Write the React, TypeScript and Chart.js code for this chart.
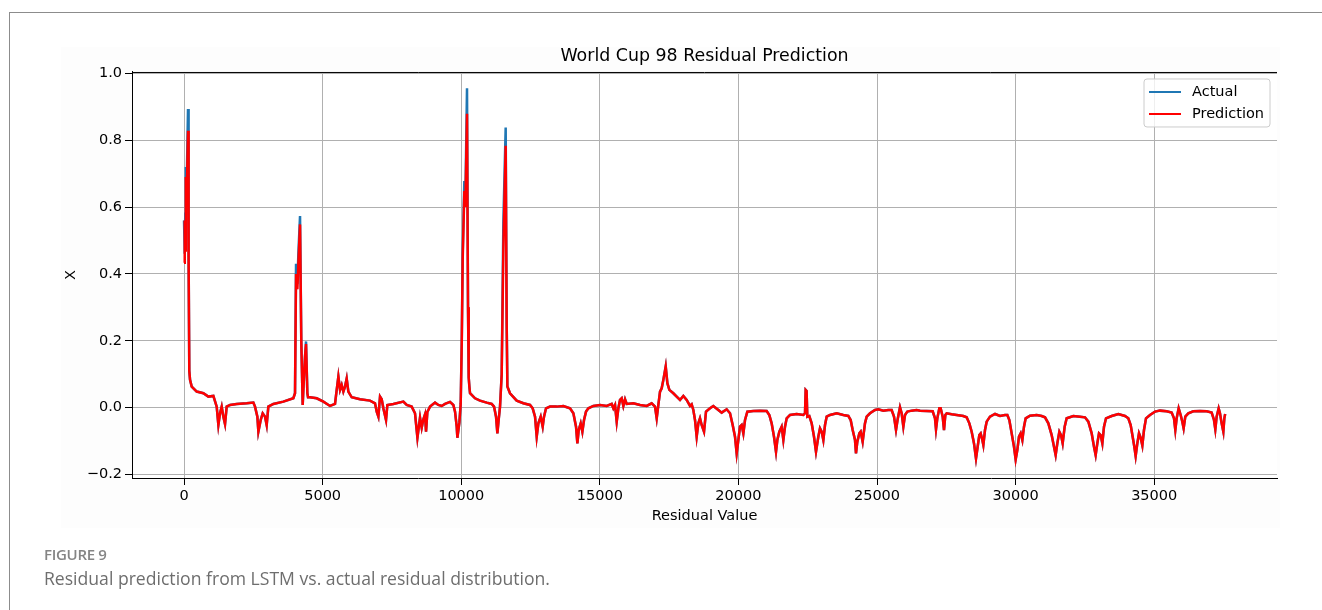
import React, { useEffect, useRef } from 'react';
import { Chart, registerables } from 'chart.js';

Chart.register(...registerables);

const FONT = "'DejaVu Sans', sans-serif";

const xTickValues = [0, 5000, 10000, 15000, 20000, 25000, 30000, 35000];
const yTickValues = [-0.2, 0.0, 0.2, 0.4, 0.6, 0.8, 1.0];
const X_MIN = -1877;
const X_MAX = 39430;
const Y_MIN = -0.2105;
const Y_MAX = 1.004;

// sample positions (residual index)
const residualIndex = [
  0, 25, 45, 65, 90, 144, 165, 190, 217,
  277, 457, 698, 878, 1058, 1179, 1239, 1299, 1359, 1419, 1479, 1539, 1660, 1900, 2261, 2501, 2561, 2646, 2682, 2766, 2838, 2922, 2982, 3042, 3223, 3584, 3944,
  4004, 4041, 4089, 4125, 4185, 4230, 4281, 4305, 4365, 4401, 4449, 4473, 4545,
  4786, 5027, 5267, 5447, 5508, 5568, 5628, 5688, 5748, 5808, 5868, 5928, 6049, 6349, 6710, 6890, 6951, 7011, 7071, 7131, 7191, 7287, 7335, 7552, 7913, 8033, 8213, 8333,
  8420, 8514, 8574, 8634, 8694, 8730, 8779, 8875, 9055, 9175, 9296, 9416, 9596, 9716, 9777, 9837, 9861, 9933, 9981,
  10020, 10053, 10113, 10150, 10209, 10245, 10270, 10294, 10318, 10498, 10679, 10919, 11099, 11184, 11256, 11304, 11350, 11400, 11460,
  11520, 11604, 11640, 11665, 11760, 12001, 12242, 12482, 12578, 12663, 12723, 12783, 12867, 12939, 12987, 13059, 13204, 13444, 13685, 13925, 14046, 14142, 14190, 14238, 14310, 14370, 14430, 14502, 14587,
  14767, 15008, 15248, 15428, 15489, 15549, 15609, 15669, 15729, 15789, 15849, 15910, 15970, 16210, 16451, 16691, 16871, 16991, 17052, 17112, 17172, 17232, 17292, 17377, 17437, 17509,
  17652, 17773, 17893, 18013, 18133, 18254, 18314, 18374, 18434, 18494, 18554, 18614, 18674, 18759, 18831, 18975, 19095, 19276, 19396, 19576, 19697, 19793, 19877, 19937, 19997, 20057, 20117, 20178, 20238, 20322,
  20538, 20779, 21019, 21115, 21199, 21284, 21356, 21404, 21476, 21560, 21621, 21681, 21741, 21861, 22102, 22342, 22402, 22426, 22460, 22486, 22558, 22643, 22727, 22799, 22883, 22943, 23004, 23064, 23124, 23184, 23304,
  23545, 23785, 23965, 24050, 24122, 24206, 24242, 24290, 24362, 24410, 24482, 24566, 24627, 24747, 24927, 25047, 25228, 25408, 25528, 25613, 25685, 25745, 25829, 25889, 25950, 26010, 26094, 26250, 26430,
  26551, 26791, 27008, 27092, 27128, 27176, 27248, 27296, 27369, 27417, 27465, 27513, 27693, 27874, 28114, 28234, 28331, 28415, 28499, 28571, 28631, 28691, 28740, 28800, 28836, 28896, 28956, 29076, 29257, 29437, 29617,
  29702, 29774, 29858, 29942, 30002, 30062, 30122, 30183, 30243, 30303, 30363, 30519, 30760, 30940, 31061, 31181, 31301, 31385, 31445, 31505, 31578, 31638, 31698, 31770, 31842, 32083, 32323, 32503,
  32624, 32744, 32828, 32888, 32948, 33008, 33068, 33129, 33189, 33261, 33465, 33706, 33946, 34066, 34151, 34223, 34283, 34331, 34391, 34451, 34511, 34572, 34632, 34704, 34848, 35029, 35209, 35449, 35630,
  35714, 35762, 35810, 35882, 35954, 36014, 36062, 36122, 36230, 36411, 36651, 36892, 37073, 37157, 37205, 37253, 37325, 37373, 37433, 37494, 37530, 37560,
];

const actualValues = [
  0.56, 0.46, 0.58, 0.72, 0.64, 0.893, 0.45, 0.11, 0.083,
  0.063, 0.048, 0.043, 0.033, 0.035, 0.003, -0.052, -0.017, 0.003, -0.027, -0.049, 0.003, 0.008, 0.011, 0.013, 0.015, 0.003, -0.027, -0.072, -0.037, -0.017, -0.027, -0.052, 0.003, 0.011, 0.018, 0.028,
  0.043, 0.43, 0.37, 0.46, 0.573, 0.2, 0.008, 0.053, 0.153, 0.198, 0.043, 0.031, 0.031,
  0.028, 0.018, 0.005, 0.011, 0.053, 0.093, 0.053, 0.068, 0.048, 0.063, 0.087, 0.048, 0.031, 0.025, 0.021, 0.013, -0.012, -0.027, 0.033, 0.025, -0.002, -0.037, 0.008, 0.011, 0.018, 0.008, 0.003, -0.017,
  -0.09, -0.03, -0.06, -0.035, -0.02, -0.072, -0.013, 0.003, 0.015, 0.008, 0.005, 0.011, 0.017, 0.008, -0.012, -0.057, -0.09, -0.045, 0.011,
  0.2, 0.46, 0.678, 0.62, 0.955, 0.3, 0.09, 0.063, 0.043, 0.028, 0.021, 0.015, 0.011, 0.003, -0.027, -0.077, -0.037, 0.003, 0.1,
  0.553, 0.838, 0.25, 0.063, 0.043, 0.021, 0.013, 0.008, -0.002, -0.027, -0.087, -0.047, -0.027, -0.057, -0.027, -0.002, 0.003, 0.003, 0.005, -0.002, -0.017, -0.057, -0.107, -0.067, -0.047, -0.072, -0.037, -0.012, -0.002,
  0.005, 0.008, 0.005, 0.011, -0.002, 0.008, -0.042, -0.002, 0.023, 0.028, 0.005, 0.025, 0.011, 0.013, 0.008, 0.005, 0.013, 0.003, -0.032, 0.008, 0.048, 0.058, 0.083, 0.123, 0.073, 0.053,
  0.043, 0.033, 0.023, 0.035, 0.023, 0.005, 0.01, -0.007, -0.037, -0.087, -0.047, -0.032, -0.052, -0.072, -0.012, -0.002, 0.005, -0.007, -0.015, -0.005, -0.017, -0.052, -0.087, -0.137, -0.097, -0.057, -0.052, -0.077, -0.037, -0.012,
  -0.010, -0.009, -0.010, -0.022, -0.047, -0.087, -0.132, -0.097, -0.072, -0.057, -0.097, -0.057, -0.032, -0.022, -0.019, -0.022, -0.017, 0.053, 0.05, -0.027, -0.025, -0.047, -0.087, -0.132, -0.087, -0.062, -0.072, -0.097, -0.052, -0.027, -0.022,
  -0.017, -0.022, -0.025, -0.037, -0.067, -0.097, -0.137, -0.102, -0.077, -0.072, -0.102, -0.047, -0.027, -0.017, -0.007, -0.005, -0.009, -0.007, -0.007, -0.027, -0.067, -0.035, 0.001, -0.017, -0.057, -0.022, -0.012, -0.009, -0.007,
  -0.009, -0.010, -0.011, -0.032, -0.065, -0.032, -0.002, -0.002, -0.027, -0.067, -0.022, -0.017, -0.020, -0.022, -0.025, -0.029, -0.047, -0.072, -0.107, -0.152, -0.117, -0.082, -0.077, -0.097, -0.112, -0.067, -0.042, -0.027, -0.019, -0.025, -0.022,
  -0.022, -0.037, -0.077, -0.117, -0.155, -0.127, -0.087, -0.077, -0.097, -0.057, -0.032, -0.024, -0.022, -0.025, -0.029, -0.047, -0.082, -0.117, -0.142, -0.107, -0.072, -0.082, -0.107, -0.057, -0.032, -0.025, -0.027, -0.029,
  -0.042, -0.077, -0.117, -0.142, -0.107, -0.077, -0.082, -0.107, -0.057, -0.032, -0.025, -0.019, -0.025, -0.032, -0.052, -0.087, -0.117, -0.145, -0.107, -0.077, -0.09, -0.113, -0.067, -0.032, -0.022, -0.012, -0.009, -0.011, -0.015,
  -0.032, -0.067, -0.032, -0.002, -0.022, -0.042, -0.062, -0.027, -0.017, -0.011, -0.010, -0.011, -0.015, -0.037, -0.065, -0.027, -0.002, -0.017, -0.047, -0.072, -0.032, -0.019,
];

const predictionValues = [
  0.433, 0.56, 0.47, 0.69, 0.60, 0.828, 0.45, 0.11, 0.083,
  0.063, 0.048, 0.043, 0.033, 0.035, 0.003, -0.052, -0.017, 0.003, -0.027, -0.049, 0.003, 0.008, 0.011, 0.013, 0.015, 0.003, -0.027, -0.072, -0.037, -0.017, -0.027, -0.052, 0.003, 0.011, 0.018, 0.028,
  0.043, 0.40, 0.354, 0.43, 0.548, 0.2, 0.008, 0.053, 0.153, 0.19, 0.043, 0.031, 0.031,
  0.028, 0.018, 0.005, 0.011, 0.053, 0.093, 0.053, 0.068, 0.048, 0.063, 0.087, 0.048, 0.031, 0.025, 0.021, 0.013, -0.012, -0.027, 0.033, 0.025, -0.002, -0.037, 0.008, 0.011, 0.018, 0.008, 0.003, -0.017,
  -0.09, -0.03, -0.06, -0.035, -0.02, -0.072, -0.013, 0.003, 0.015, 0.008, 0.005, 0.011, 0.017, 0.008, -0.012, -0.057, -0.09, -0.045, 0.011,
  0.2, 0.443, 0.648, 0.60, 0.879, 0.3, 0.09, 0.063, 0.043, 0.028, 0.021, 0.015, 0.011, 0.003, -0.027, -0.077, -0.037, 0.003, 0.1,
  0.473, 0.783, 0.25, 0.063, 0.043, 0.021, 0.013, 0.008, -0.002, -0.027, -0.087, -0.047, -0.027, -0.057, -0.027, -0.002, 0.003, 0.003, 0.005, -0.002, -0.017, -0.057, -0.107, -0.067, -0.047, -0.072, -0.037, -0.012, -0.002,
  0.005, 0.008, 0.005, 0.011, -0.002, 0.008, -0.042, -0.002, 0.023, 0.028, 0.005, 0.025, 0.011, 0.013, 0.008, 0.005, 0.013, 0.003, -0.032, 0.008, 0.048, 0.058, 0.083, 0.123, 0.073, 0.053,
  0.043, 0.033, 0.023, 0.035, 0.023, 0.005, 0.01, -0.007, -0.037, -0.087, -0.047, -0.032, -0.052, -0.072, -0.012, -0.002, 0.005, -0.007, -0.015, -0.005, -0.017, -0.052, -0.087, -0.137, -0.097, -0.057, -0.052, -0.077, -0.037, -0.012,
  -0.010, -0.009, -0.010, -0.022, -0.047, -0.087, -0.132, -0.097, -0.072, -0.057, -0.097, -0.057, -0.032, -0.022, -0.019, -0.022, -0.017, 0.053, 0.05, -0.027, -0.025, -0.047, -0.087, -0.132, -0.087, -0.062, -0.072, -0.097, -0.052, -0.027, -0.022,
  -0.017, -0.022, -0.025, -0.037, -0.067, -0.097, -0.137, -0.102, -0.077, -0.072, -0.102, -0.047, -0.027, -0.017, -0.007, -0.005, -0.009, -0.007, -0.007, -0.027, -0.067, -0.035, 0.001, -0.017, -0.057, -0.022, -0.012, -0.009, -0.007,
  -0.009, -0.010, -0.011, -0.032, -0.065, -0.032, -0.002, -0.002, -0.027, -0.067, -0.022, -0.017, -0.020, -0.022, -0.025, -0.029, -0.047, -0.072, -0.107, -0.152, -0.117, -0.082, -0.077, -0.097, -0.112, -0.067, -0.042, -0.027, -0.019, -0.025, -0.022,
  -0.022, -0.037, -0.077, -0.117, -0.155, -0.127, -0.087, -0.077, -0.097, -0.057, -0.032, -0.024, -0.022, -0.025, -0.029, -0.047, -0.082, -0.117, -0.142, -0.107, -0.072, -0.082, -0.107, -0.057, -0.032, -0.025, -0.027, -0.029,
  -0.042, -0.077, -0.117, -0.142, -0.107, -0.077, -0.082, -0.107, -0.057, -0.032, -0.025, -0.019, -0.025, -0.032, -0.052, -0.087, -0.117, -0.145, -0.107, -0.077, -0.09, -0.113, -0.067, -0.032, -0.022, -0.012, -0.009, -0.011, -0.015,
  -0.032, -0.067, -0.032, -0.002, -0.022, -0.042, -0.062, -0.027, -0.017, -0.011, -0.010, -0.011, -0.015, -0.037, -0.065, -0.027, -0.002, -0.017, -0.047, -0.072, -0.032, -0.019,
];

const seriesNames = ['Actual', 'Prediction'];
const seriesColors = ['#1f77b4', '#ff0000'];

const toPoints = (ys: number[]) => residualIndex.map((x, i) => ({ x, y: ys[i] }));

const framePlugin = {
  id: 'mplFrame',
  beforeDraw(chart: any) {
    const { ctx, chartArea } = chart;
    ctx.save();
    ctx.fillStyle = '#ffffff';
    ctx.fillRect(chartArea.left, chartArea.top, chartArea.right - chartArea.left, chartArea.bottom - chartArea.top);
    ctx.restore();
  },
  afterDraw(chart: any) {
    const { ctx, chartArea } = chart;
    ctx.save();
    // top spine
    ctx.strokeStyle = '#000';
    ctx.lineWidth = 1;
    ctx.beginPath();
    ctx.moveTo(chartArea.left, chartArea.top + 0.5);
    ctx.lineTo(chartArea.right, chartArea.top + 0.5);
    ctx.stroke();

    // legend (upper right)
    const w = 126;
    const h = 48;
    const x0 = chartArea.right - 7 - w;
    const y0 = chartArea.top + 7;
    ctx.beginPath();
    const r = 3;
    ctx.moveTo(x0 + r, y0);
    ctx.lineTo(x0 + w - r, y0);
    ctx.arcTo(x0 + w, y0, x0 + w, y0 + r, r);
    ctx.lineTo(x0 + w, y0 + h - r);
    ctx.arcTo(x0 + w, y0 + h, x0 + w - r, y0 + h, r);
    ctx.lineTo(x0 + r, y0 + h);
    ctx.arcTo(x0, y0 + h, x0, y0 + h - r, r);
    ctx.lineTo(x0, y0 + r);
    ctx.arcTo(x0, y0, x0 + r, y0, r);
    ctx.closePath();
    ctx.fillStyle = 'rgba(255,255,255,0.8)';
    ctx.fill();
    ctx.strokeStyle = '#cccccc';
    ctx.lineWidth = 1;
    ctx.stroke();

    ctx.font = `14.5px ${FONT}`;
    ctx.textBaseline = 'middle';
    ctx.textAlign = 'left';
    seriesNames.forEach((name, i) => {
      const cy = y0 + 13 + i * 22;
      ctx.strokeStyle = seriesColors[i];
      ctx.lineWidth = 2;
      ctx.beginPath();
      ctx.moveTo(x0 + 5, cy);
      ctx.lineTo(x0 + 37, cy);
      ctx.stroke();
      ctx.fillStyle = '#000';
      ctx.fillText(name, x0 + 48, cy);
    });
    ctx.restore();
  },
};

export default function App() {
  const canvasRef = useRef<HTMLCanvasElement | null>(null);

  useEffect(() => {
    if (!canvasRef.current) return;
    const chart = new Chart(canvasRef.current, {
      type: 'line',
      data: {
        datasets: [
          {
            label: seriesNames[0],
            data: toPoints(actualValues),
            borderColor: seriesColors[0],
            backgroundColor: seriesColors[0],
            borderWidth: 2.5,
            pointRadius: 0,
            tension: 0,
            order: 1,
          },
          {
            label: seriesNames[1],
            data: toPoints(predictionValues),
            borderColor: seriesColors[1],
            backgroundColor: seriesColors[1],
            borderWidth: 2.5,
            pointRadius: 0,
            tension: 0,
            order: 0,
          },
        ],
      },
      options: {
        responsive: false,
        animation: false,
        devicePixelRatio: 1,
        events: [],
        layout: { padding: { left: 62, right: 45, top: 0, bottom: 80 } },
        plugins: {
          legend: { display: false },
          tooltip: { enabled: false },
          title: {
            display: true,
            fullSize: false,
            text: 'World Cup 98 Residual Prediction',
            color: '#000',
            font: { family: FONT, size: 17.4, weight: 'normal' },
            padding: { top: 46, bottom: 5.1 },
          },
        },
        scales: {
          x: {
            type: 'linear',
            min: X_MIN,
            max: X_MAX,
            afterBuildTicks: (scale: any) => {
              scale.ticks = xTickValues.map((v) => ({ value: v }));
            },
            afterFit: (scale: any) => {
              scale.height = 52;
            },
            ticks: {
              callback: (v: any) => String(v),
              color: '#000',
              font: { family: FONT, size: 14.5 },
              padding: 3,
              maxRotation: 0,
              autoSkip: false,
            },
            grid: { color: '#b0b0b0', lineWidth: 1, tickColor: '#000', tickLength: 7 },
            border: { color: '#000', width: 1 },
            title: {
              display: true,
              text: 'Residual Value',
              color: '#000',
              font: { family: FONT, size: 14.5 },
              padding: { top: 0, bottom: 5 },
            },
          },
          y: {
            type: 'linear',
            min: Y_MIN,
            max: Y_MAX,
            afterBuildTicks: (scale: any) => {
              scale.ticks = yTickValues.map((v) => ({ value: v }));
            },
            afterFit: (scale: any) => {
              scale.width = 70;
            },
            ticks: {
              callback: (v: any) => Number(v).toFixed(1).replace('-', '\u2212'),
              color: '#000',
              font: { family: FONT, size: 14.5 },
              padding: 3,
              autoSkip: false,
            },
            grid: { color: '#b0b0b0', lineWidth: 1, tickColor: '#000', tickLength: 7 },
            border: { color: '#000', width: 1 },
            title: {
              display: true,
              text: 'X',
              color: '#000',
              font: { family: FONT, size: 14.5 },
              padding: { top: 1, bottom: 0 },
            },
          },
        },
      },
      plugins: [framePlugin],
    } as any);
    return () => chart.destroy();
  }, []);

  return (
    <div style={{ position: 'fixed', left: 0, top: 0, width: 1322, height: 610, background: '#fff', overflow: 'hidden' }}>
      <div
        style={{
          position: 'absolute',
          left: 9,
          top: 12,
          width: 1340,
          height: 640,
          borderTop: '1px solid #8c8c8c',
          borderLeft: '1px solid #8c8c8c',
        }}
      />
      <div style={{ position: 'absolute', left: 61, top: 47, width: 1219, height: 481, background: '#fdfdfd' }} />
      <canvas ref={canvasRef} width={1322} height={610} style={{ position: 'absolute', left: 0, top: 0 }} />
      <div
        style={{
          position: 'absolute',
          left: 44,
          top: 544,
          fontFamily: "'Open Sans', sans-serif",
          fontSize: 15,
          fontWeight: 600,
          lineHeight: '20px',
          color: '#858585',
          letterSpacing: '-0.3px',
        }}
      >
        FIGURE 9
      </div>
      <div
        style={{
          position: 'absolute',
          left: 44,
          top: 566,
          fontFamily: "'Open Sans', sans-serif",
          fontSize: 17.6,
          lineHeight: '24px',
          color: '#6e6e6e',
          whiteSpace: 'nowrap',
        }}
      >
        Residual prediction from LSTM vs. actual residual distribution.
      </div>
    </div>
  );
}
